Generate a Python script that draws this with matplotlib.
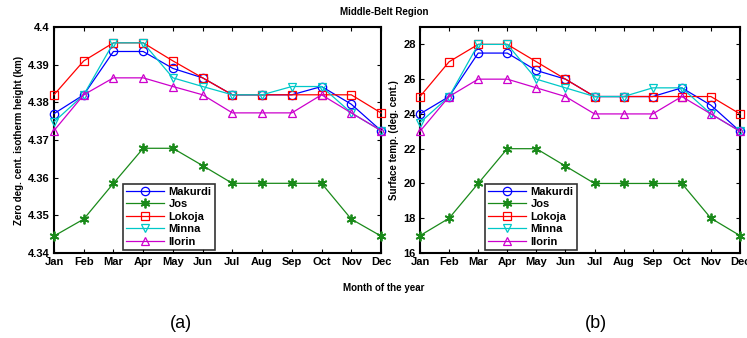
import matplotlib
matplotlib.use("Agg")
import matplotlib.pyplot as plt

months = ["Jan", "Feb", "Mar", "Apr", "May", "Jun", "Jul", "Aug", "Sep", "Oct", "Nov", "Dec"]
stations = ["Makurdi", "Jos", "Lokoja", "Minna", "Ilorin"]

# (a) Zero deg. cent. isotherm height (km)
h_makurdi = [4.3770, 4.3820, 4.3935, 4.3935, 4.3890, 4.3865, 4.3820, 4.3820, 4.3820, 4.3842, 4.3795, 4.3725]
h_jos     = [4.3445, 4.3490, 4.3585, 4.3678, 4.3678, 4.3632, 4.3585, 4.3585, 4.3585, 4.3585, 4.3490, 4.3445]
h_lokoja  = [4.3820, 4.3910, 4.3958, 4.3958, 4.3910, 4.3865, 4.3820, 4.3820, 4.3820, 4.3820, 4.3820, 4.3772]
h_minna   = [4.3748, 4.3820, 4.3958, 4.3958, 4.3865, 4.3842, 4.3820, 4.3820, 4.3842, 4.3842, 4.3772, 4.3725]
h_ilorin  = [4.3725, 4.3820, 4.3865, 4.3865, 4.3842, 4.3820, 4.3772, 4.3772, 4.3772, 4.3820, 4.3772, 4.3725]

# (b) Surface temp. (deg. cent.)
t_makurdi = [24, 25, 27.5, 27.5, 26.5, 26, 25, 25, 25, 25.5, 24.5, 23]
t_jos     = [17, 18, 20, 22, 22, 21, 20, 20, 20, 20, 18, 17]
t_lokoja  = [25, 27, 28, 28, 27, 26, 25, 25, 25, 25, 25, 24]
t_minna   = [23.5, 25, 28, 28, 26, 25.5, 25, 25, 25.5, 25.5, 24, 23]
t_ilorin  = [23, 25, 26, 26, 25.5, 25, 24, 24, 24, 25, 24, 23]

colors = ["#0000ff", "#1a8a1a", "#ff0000", "#00c8c8", "#cc00cc"]
markers = ["o", (6, 2, 0), "s", "v", "^"]

plt.rcParams["font.family"] = ["Liberation Sans", "DejaVu Sans"]
plt.rcParams["font.weight"] = "bold"

fig = plt.figure(figsize=(7.47, 3.38), dpi=100)
W, H = 747, 338
axa = fig.add_axes([54 / W, 1 - 253 / H, (381 - 54) / W, (253 - 27) / H])
axb = fig.add_axes([420 / W, 1 - 253 / H, (740 - 420) / W, (253 - 27) / H])

x = list(range(len(months)))

def draw(ax, series, ylim, yticks, yfmt, ylabel, legbox):
    for s, name, c, m in zip(series, stations, colors, markers):
        ms = 7 if isinstance(m, tuple) else 6
        mew = 1.3 if isinstance(m, tuple) else 0.9
        ax.plot(x, s, color=c, marker=m, markersize=ms, markerfacecolor="none",
                markeredgecolor=c, markeredgewidth=mew, linewidth=0.9, label=name,
                clip_on=False, zorder=3)
    ax.set_xlim(0, 11)
    ax.set_ylim(*ylim)
    ax.set_xticks(x)
    ax.set_xticklabels(months)
    ax.set_yticks(yticks)
    ax.set_yticklabels([yfmt(v) for v in yticks])
    ax.tick_params(direction="in", top=True, right=True, labelsize=8, length=3,
                   width=0.8, pad=3)
    for lab in ax.get_xticklabels() + ax.get_yticklabels():
        lab.set_fontweight("bold")
    for sp in ax.spines.values():
        sp.set_linewidth(1.5)
    ax.set_ylabel(ylabel, fontsize=7, fontweight="bold", labelpad=3)
    leg = ax.legend(loc="lower left", bbox_to_anchor=legbox, fontsize=8,
                    frameon=True, fancybox=False, edgecolor="black",
                    handlelength=3.4, handletextpad=0.4, borderpad=0.3,
                    labelspacing=0.22, borderaxespad=0)
    leg.get_frame().set_linewidth(1.2)
    for t in leg.get_texts():
        t.set_fontweight("bold")

draw(axa, [h_makurdi, h_jos, h_lokoja, h_minna, h_ilorin], (4.34, 4.40),
     [4.34, 4.35, 4.36, 4.37, 4.38, 4.39, 4.40],
     lambda v: ("%.2f" % v).rstrip("0") if v != 4.40 else "4.4",
     "Zero deg. cent. isotherm height (km)",
     ((123 - 54) / (381 - 54), (253 - 250) / 226))
draw(axb, [t_makurdi, t_jos, t_lokoja, t_minna, t_ilorin], (16, 29),
     [16, 18, 20, 22, 24, 26, 28], lambda v: "%d" % v,
     "Surface temp. (deg. cent.)",
     ((485 - 420) / (740 - 420), (253 - 250) / 226))

fig.text(384 / W, 1 - 12 / H, "Middle-Belt Region", ha="center", va="center",
         fontsize=7, fontweight="bold")
fig.text(384 / W, 1 - 288 / H, "Month of the year", ha="center", va="center",
         fontsize=7, fontweight="bold")
fig.text(181 / W, 1 - 324 / H, "(a)", ha="center", va="center", fontsize=13,
         fontweight="normal")
fig.text(596 / W, 1 - 324 / H, "(b)", ha="center", va="center", fontsize=13,
         fontweight="normal")

fig.savefig("out.png", dpi=100)
